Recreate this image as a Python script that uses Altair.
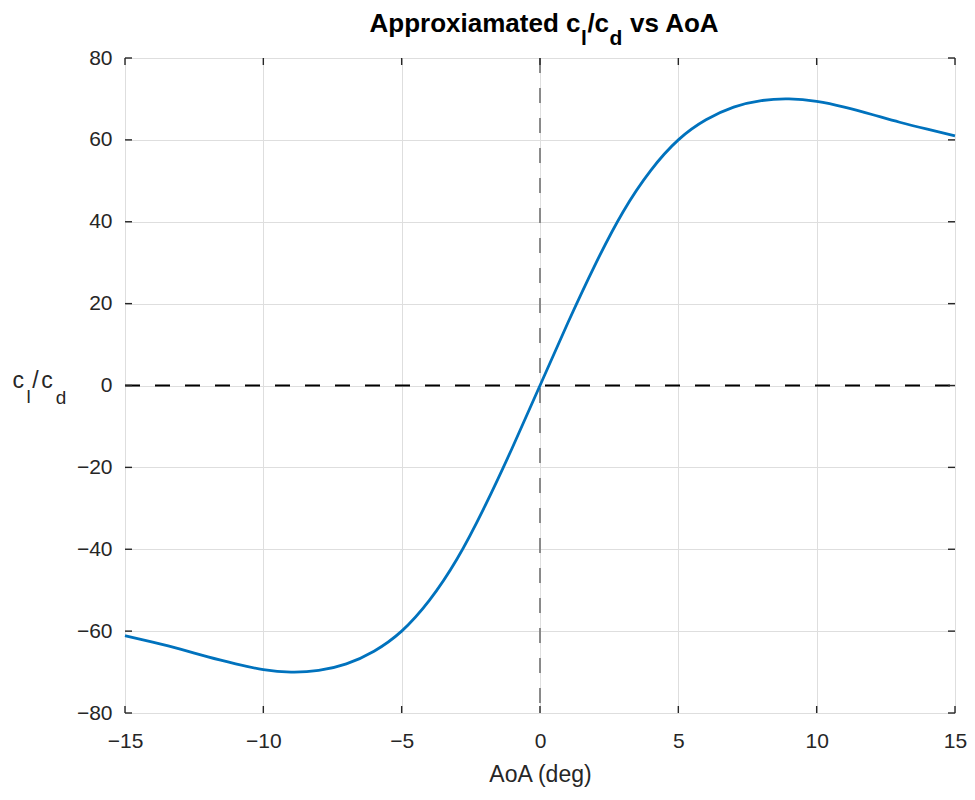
import altair as alt
import pandas as pd

# ---- data ----
aoa = [-15, -14, -13, -12, -11, -10, -9, -8, -7, -6, -5, -4, -3, -2, -1,
       0, 1, 2, 3, 4, 5, 6, 7, 8, 9, 10, 11, 12, 13, 14, 15]
cl_cd = [-61.1, -62.7, -64.4, -66.3, -68.0, -69.4, -70.0, -69.6, -68.0, -64.9, -60.0,
         -52.5, -42.4, -29.6, -15.2,
         0.0, 15.2, 29.6, 42.4, 52.5, 60.0, 64.9, 68.0, 69.6, 70.0, 69.4, 68.0, 66.2,
         64.3, 62.6, 61.0]
x_ticks = [-15, -10, -5, 0, 5, 10, 15]
y_ticks = [-80, -60, -40, -20, 0, 20, 40, 60, 80]
zero_x = [0]
zero_y = [0]

W, H = 830, 655
FONT = "Liberation Sans"
DARK = "#262626"

df = pd.DataFrame({"aoa": aoa, "clcd": cl_cd})
xt = pd.DataFrame({"t": x_ticks})
yt = pd.DataFrame({"t": y_ticks})

xscale = alt.Scale(domain=[-15, 15], nice=False, zero=False)
yscale = alt.Scale(domain=[-80, 80], nice=False, zero=False)

xaxis = alt.Axis(values=x_ticks, grid=True, gridColor="#dedede", gridWidth=1,
                 domain=False, ticks=False, labelFont=FONT, labelFontSize=21,
                 labelColor=DARK, labelPadding=17, title="AoA (deg)", titleFont=FONT,
                 titleFontSize=23, titleFontWeight="normal", titleColor=DARK,
                 titlePadding=12, labelFlush=False)
yaxis = alt.Axis(values=y_ticks, grid=True, gridColor="#dedede", gridWidth=1,
                 domain=False, ticks=False, labelFont=FONT, labelFontSize=21,
                 labelColor=DARK, labelPadding=13, title="", labelFlush=False)

base_curve = alt.Chart(df).mark_line(color="#0072BD", strokeWidth=2.8,
                                     interpolate="natural").encode(
    x=alt.X("aoa:Q", scale=xscale, axis=xaxis),
    y=alt.Y("clcd:Q", scale=yscale, axis=yaxis),
)

hline = alt.Chart(pd.DataFrame({"v": zero_y})).mark_rule(
    color="#000000", strokeWidth=1.8, strokeDash=[15, 15]).encode(
    y=alt.Y("v:Q", scale=yscale), x=alt.value(0), x2=alt.value(W))

vline = alt.Chart(pd.DataFrame({"v": zero_x})).mark_rule(
    color="#808080", strokeWidth=1.8, strokeDash=[15, 15]).encode(
    x=alt.X("v:Q", scale=xscale), y=alt.value(0), y2=alt.value(H))

TL = 7
tick_style = dict(color=DARK, strokeWidth=1.4)
bt = alt.Chart(xt).mark_rule(**tick_style).encode(
    x=alt.X("t:Q", scale=xscale), y=alt.value(H), y2=alt.value(H - TL))
tt = alt.Chart(xt).mark_rule(**tick_style).encode(
    x=alt.X("t:Q", scale=xscale), y=alt.value(0), y2=alt.value(TL))
lt = alt.Chart(yt).mark_rule(**tick_style).encode(
    y=alt.Y("t:Q", scale=yscale), x=alt.value(0), x2=alt.value(TL))
rt = alt.Chart(yt).mark_rule(**tick_style).encode(
    y=alt.Y("t:Q", scale=yscale), x=alt.value(W), x2=alt.value(W - TL))


def txt(s, x, y, size, weight="normal", color="#000000", align="left"):
    return alt.Chart(alt.Data(values=[{}])).mark_text(
        text=s, font=FONT, fontSize=size, fontWeight=weight, color=color,
        align=align, baseline="alphabetic").encode(x=alt.value(x), y=alt.value(y))


# title pieces: "Approxiamated c_l/c_d vs AoA" (main 26px bold, subscripts 21px bold)
TB, SB = -26, -13
title_parts = [
    txt("Approxiamated", 244.5, TB, 26, "bold"),
    txt("c", 441, TB, 26, "bold"),
    txt("l", 456, SB, 21, "bold"),
    txt("/", 462.5, TB, 26, "bold"),
    txt("c", 469.5, TB, 26, "bold"),
    txt("d", 484.5, SB, 21, "bold"),
    txt("vs AoA", 505, TB, 26, "bold"),
]
# y label pieces: "c_l/c_d"
ylab_parts = [
    txt("c", -106.7, 330, 23, color=DARK, align="center"),
    txt("l", -96.3, 345, 19, color=DARK, align="center"),
    txt("/", -89.5, 330, 23, color=DARK, align="center"),
    txt("c", -78, 330, 23, color=DARK, align="center"),
    txt("d", -64, 346, 19, color=DARK, align="center"),
]

chart = alt.layer(
    vline, hline, base_curve, bt, tt, lt, rt, *title_parts, *ylab_parts
).properties(
    width=W, height=H,
    autosize=alt.AutoSizeParams(type="none"),
    padding={"left": 125, "top": 58, "right": 20, "bottom": 87},
).configure_view(stroke=DARK, strokeWidth=1.5).configure(background="white")

chart.save("out.html", embed_options={"renderer": "svg", "actions": False})
